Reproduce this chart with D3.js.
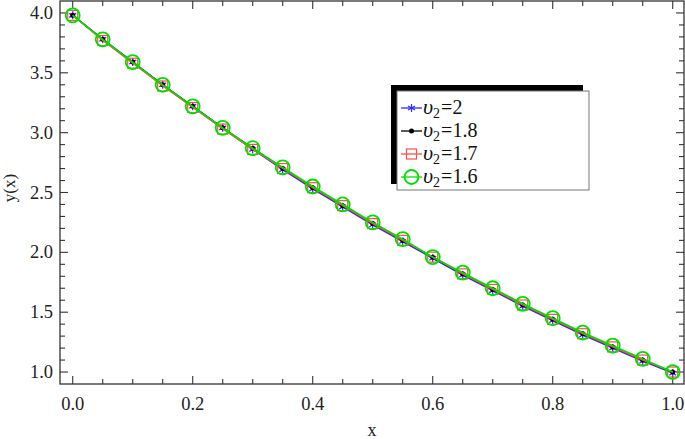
<!DOCTYPE html>
<html>
<head>
<meta charset="utf-8">
<script src="https://cdn.jsdelivr.net/npm/d3@7"></script>
<style>
  body { margin: 0; background: #fff; }
  svg { display: block; font-family: "Liberation Serif", "Times New Roman", serif; }
</style>
</head>
<body>
<svg id="chart" width="685" height="439"></svg>
<script>
// x grid of the solution
const xValues = [0, 0.05, 0.1, 0.15, 0.2, 0.25, 0.3, 0.35, 0.4, 0.45, 0.5,
                 0.55, 0.6, 0.65, 0.7, 0.75, 0.8, 0.85, 0.9, 0.95, 1.0];

// y(x) for each upsilon_2
const yNu20  = [3.98, 3.78, 3.59, 3.40, 3.22, 3.04, 2.86, 2.69, 2.53, 2.38, 2.23,
                2.09, 1.95, 1.81, 1.68, 1.55, 1.43, 1.31, 1.20, 1.09, 0.99];
const yNu18  = [3.98, 3.78, 3.59, 3.40, 3.22, 3.04, 2.87, 2.70, 2.54, 2.39, 2.24,
                2.10, 1.96, 1.82, 1.69, 1.56, 1.44, 1.32, 1.21, 1.10, 1.00];
const yNu17  = [3.98, 3.77, 3.58, 3.39, 3.21, 3.03, 2.86, 2.70, 2.54, 2.39, 2.24,
                2.10, 1.96, 1.82, 1.69, 1.56, 1.44, 1.32, 1.21, 1.10, 1.00];
const yNu16  = [3.98, 3.78, 3.59, 3.40, 3.22, 3.04, 2.87, 2.71, 2.55, 2.40, 2.25,
                2.11, 1.96, 1.83, 1.70, 1.57, 1.45, 1.33, 1.22, 1.11, 1.00];

const seriesNames = ["2", "1.8", "1.7", "1.6"];
const seriesColors = ["#2b2bff", "#000000", "#ff4d4d", "#00e000"];
const seriesMarkers = ["star", "dot", "square", "circle"];
const seriesData = [yNu20, yNu18, yNu17, yNu16];

const xTicks = [0, 0.2, 0.4, 0.6, 0.8, 1.0];
const yTicks = [1.0, 1.5, 2.0, 2.5, 3.0, 3.5, 4.0];

const svg = d3.select("#chart");
const plotL = 60, plotR = 684, plotT = 1, plotB = 384;

const x = d3.scaleLinear().domain([-0.0212, 1.0188]).range([plotL, plotR]);
const y = d3.scaleLinear().domain([0.9, 4.1]).range([plotB, plotT]);

const axisColor = "#333";

// frame
svg.append("rect").attr("x", plotL).attr("y", plotT)
  .attr("width", plotR - plotL).attr("height", plotB - plotT)
  .attr("fill", "none").attr("stroke", axisColor).attr("stroke-width", 1.3);

// ticks (inward, all four sides)
const xMinor = d3.range(0, 1.0001, 0.05);
const yMinor = d3.range(1.0, 4.0001, 0.1);
const tickG = svg.append("g").attr("stroke", axisColor).attr("stroke-width", 1.1);
xMinor.forEach((v, i) => {
  const len = (i % 4 === 0) ? 8 : 5;
  tickG.append("line").attr("x1", x(v)).attr("x2", x(v)).attr("y1", plotB).attr("y2", plotB - len);
  tickG.append("line").attr("x1", x(v)).attr("x2", x(v)).attr("y1", plotT).attr("y2", plotT + len);
});
yMinor.forEach((v, i) => {
  const len = (i % 5 === 0) ? 8 : 5;
  tickG.append("line").attr("y1", y(v)).attr("y2", y(v)).attr("x1", plotL).attr("x2", plotL + len);
  tickG.append("line").attr("y1", y(v)).attr("y2", y(v)).attr("x1", plotR).attr("x2", plotR - len);
});

// tick labels
svg.append("g").selectAll("text").data(xTicks).join("text")
  .attr("x", d => x(d)).attr("y", 410)
  .attr("text-anchor", "middle").attr("font-size", 18.5).attr("fill", "#222")
  .text(d => d.toFixed(1));
svg.append("g").selectAll("text").data(yTicks).join("text")
  .attr("x", 53).attr("y", d => y(d) + 6)
  .attr("text-anchor", "end").attr("font-size", 18.5).attr("fill", "#222")
  .text(d => d.toFixed(1));

// axis titles
svg.append("text").attr("x", 372).attr("y", 436).attr("text-anchor", "middle")
  .attr("font-size", 18).attr("fill", "#222").text("x");
svg.append("text").attr("transform", "translate(15,188) rotate(-90)")
  .attr("text-anchor", "middle").attr("font-size", 17).attr("fill", "#222").text("y(x)");

function drawMarker(g, type, color, cx, cy) {
  if (type === "star") {
    const r = 4;
    for (let k = 0; k < 3; k++) {
      const a = Math.PI / 2 + k * Math.PI / 3;
      g.append("line").attr("x1", cx - r * Math.cos(a)).attr("y1", cy - r * Math.sin(a))
        .attr("x2", cx + r * Math.cos(a)).attr("y2", cy + r * Math.sin(a))
        .attr("stroke", color).attr("stroke-width", 1.2);
    }
  } else if (type === "dot") {
    g.append("circle").attr("cx", cx).attr("cy", cy).attr("r", 2.5).attr("fill", color);
  } else if (type === "square") {
    g.append("rect").attr("x", cx - 5).attr("y", cy - 5).attr("width", 10).attr("height", 10)
      .attr("fill", "none").attr("stroke", color).attr("stroke-width", 1.2);
  } else if (type === "circle") {
    g.append("circle").attr("cx", cx).attr("cy", cy).attr("r", 7)
      .attr("fill", "none").attr("stroke", color).attr("stroke-width", 1.8);
  }
}

const line = d3.line().x((d, i) => x(xValues[i])).y(d => y(d));

seriesData.forEach((vals, s) => {
  const g = svg.append("g");
  g.append("path").attr("d", line(vals)).attr("fill", "none")
    .attr("stroke", seriesColors[s]).attr("stroke-width", s === 3 ? 1.6 : 1.3);
  vals.forEach((v, i) => drawMarker(g, seriesMarkers[s], seriesColors[s], x(xValues[i]), y(v)));
});

// legend with black shadow
const lg = svg.append("g");
lg.append("rect").attr("x", 391).attr("y", 85).attr("width", 192).attr("height", 99).attr("fill", "#000");
lg.append("rect").attr("x", 397).attr("y", 91).attr("width", 192).attr("height", 99)
  .attr("fill", "#fff").attr("stroke", "#777").attr("stroke-width", 1);
seriesNames.forEach((name, s) => {
  const cy = 108 + s * 23;
  lg.append("line").attr("x1", 401).attr("x2", 422).attr("y1", cy).attr("y2", cy)
    .attr("stroke", seriesColors[s]).attr("stroke-width", 1.3);
  drawMarker(lg, seriesMarkers[s], seriesColors[s], 411.5, cy);
  const t = lg.append("text").attr("x", 423).attr("y", cy + 6).attr("font-size", 20).attr("fill", "#111");
  t.append("tspan").attr("font-style", "italic").attr("font-size", 22).text("\u03c5");
  t.append("tspan").attr("font-size", 14).attr("dy", 4).text("2");
  t.append("tspan").attr("dy", -4).attr("dx", 1).text("=" + name);
});
</script>
</body>
</html>
